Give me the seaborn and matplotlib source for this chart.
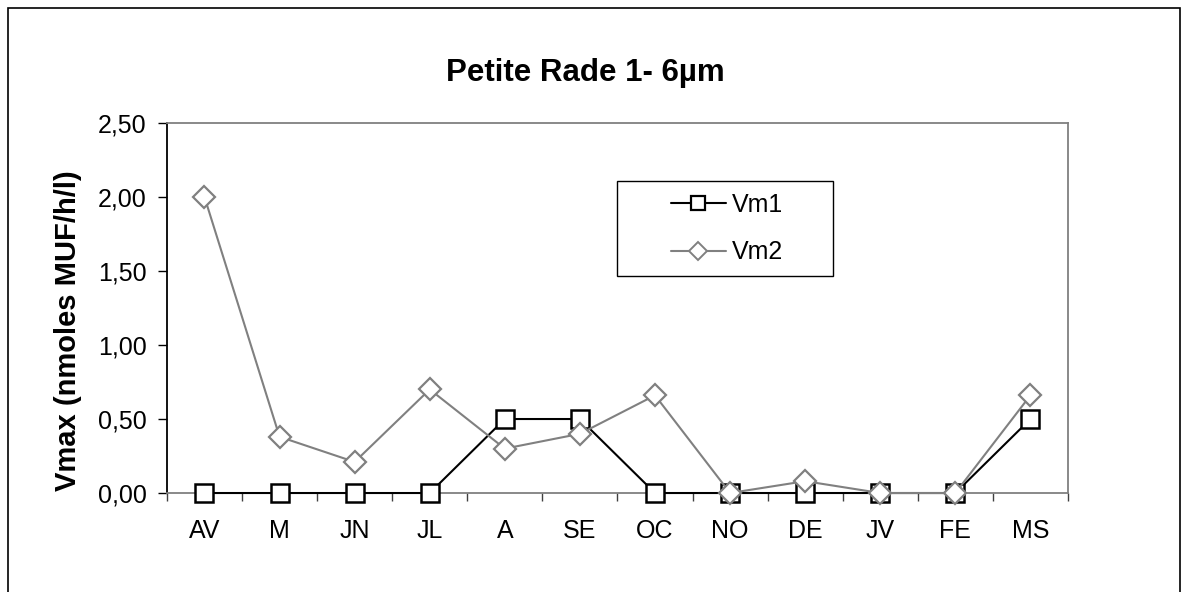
import matplotlib
matplotlib.use('Agg')
import matplotlib.pyplot as plt
import seaborn as sns
import pandas as pd
from matplotlib.patches import Rectangle
from matplotlib.lines import Line2D
from matplotlib.ticker import FuncFormatter, FixedLocator

# months (abbreviated, French)
months = ['AV', 'M', 'JN', 'JL', 'A', 'SE', 'OC', 'NO', 'DE', 'JV', 'FE', 'MS']
vm1 = [0, 0, 0, 0, 0.50, 0.50, 0, 0, 0, 0, 0, 0.50]
vm2 = [2.00, 0.38, 0.21, 0.70, 0.30, 0.40, 0.66, 0, 0.08, 0, 0, 0.66]
y_ticks = [0, 0.5, 1.0, 1.5, 2.0, 2.5]

GREY = '#808080'

sns.set_style('white')
plt.rcParams['font.family'] = ['Liberation Sans', 'DejaVu Sans']
plt.rcParams['text.color'] = 'black'
plt.rcParams['axes.labelcolor'] = 'black'
plt.rcParams['xtick.color'] = 'black'
plt.rcParams['ytick.color'] = 'black'

fig = plt.figure(figsize=(11.84, 5.92), dpi=100)
ax = fig.add_axes([0.141, 0.1672, 0.761, 0.625])

df = pd.DataFrame({'month': months, 'Vm1': vm1, 'Vm2': vm2})

sns.lineplot(data=df, x='month', y='Vm1', ax=ax, sort=False, color='black',
             linewidth=1.5, marker='s', markersize=13, markerfacecolor='white',
             markeredgecolor='black', markeredgewidth=1.8, zorder=3, clip_on=False)
sns.lineplot(data=df, x='month', y='Vm2', ax=ax, sort=False, color=GREY,
             linewidth=1.5, marker='D', markersize=11, markerfacecolor='white',
             markeredgecolor=GREY, markeredgewidth=1.6, zorder=4, clip_on=False)

ax.set_xlim(-0.5, len(months) - 0.5)
ax.set_ylim(0, 2.5)
ax.set_yticks(y_ticks)
ax.yaxis.set_major_formatter(FuncFormatter(lambda v, p: f'{v:.2f}'.replace('.', ',')))

# category ticks sit between the labels
ax.set_xticks(range(len(months)))
ax.set_xticklabels(months)
ax.xaxis.set_minor_locator(FixedLocator([i - 0.5 for i in range(len(months) + 1)]))
ax.tick_params(axis='x', which='major', length=0, labelsize=18, pad=19)
ax.tick_params(axis='x', which='minor', length=6, width=1, color='#404040', direction='out')
ax.tick_params(axis='y', length=6.5, width=1, color='black', direction='out', labelsize=18, pad=8)
ax.xaxis.set_ticks_position('bottom')
ax.yaxis.set_ticks_position('left')

for side in ['top', 'right', 'bottom']:
    ax.spines[side].set_color(GREY)
    ax.spines[side].set_linewidth(1.3)
ax.spines['left'].set_color('black')
ax.spines['left'].set_linewidth(1.3)

ax.set_xlabel('')
ax.set_ylabel('Vmax (nmoles MUF/h/l)', fontsize=21, fontweight='bold')
ax.yaxis.set_label_coords(-0.094, 0.438)

fig.text(0.494, 0.864, 'Petite Rade 1- 6µm', ha='center', va='baseline',
         fontsize=22.5, fontweight='bold')

# legend: box drawn separately, entries centred inside it
handles = [
    Line2D([0], [0], color='black', linewidth=1.5, marker='s', markersize=10,
           markerfacecolor='white', markeredgecolor='black', markeredgewidth=1.6),
    Line2D([0], [0], color=GREY, linewidth=1.5, marker='D', markersize=9,
           markerfacecolor='white', markeredgecolor=GREY, markeredgewidth=1.4),
]
leg = fig.legend(handles, ['Vm1', 'Vm2'], loc='center', bbox_to_anchor=(0.614, 0.614),
                 fontsize=18, frameon=False, handlelength=2.2, handletextpad=0.25,
                 labelspacing=0.95, borderpad=0, borderaxespad=0)
fig.patches.append(Rectangle((617 / 1184, 1 - 276 / 592), 216 / 1184, 95 / 592,
                             transform=fig.transFigure, fill=False,
                             edgecolor='black', linewidth=1))

# outer chart border
fig.patches.append(Rectangle((0.007, -0.05), 0.99, 1.036, transform=fig.transFigure,
                             fill=False, edgecolor='black', linewidth=1.2))

fig.savefig('out.png', dpi=100)
